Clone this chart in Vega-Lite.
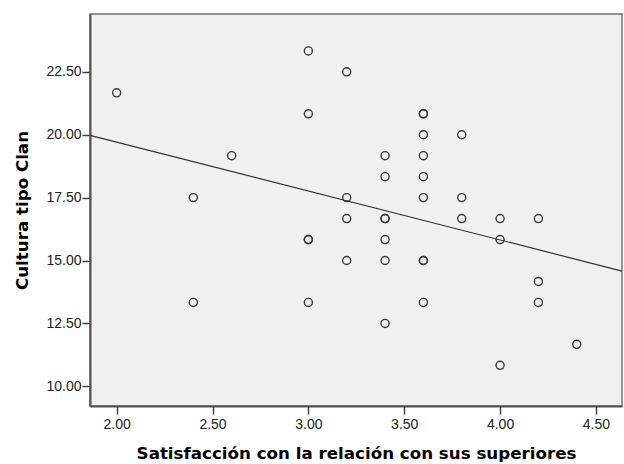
{
  "$schema": "https://vega.github.io/schema/vega-lite/v6.json",
  "width": 532,
  "height": 392,
  "autosize": {"type": "none"},
  "padding": {"left": 90, "top": 14, "right": 2, "bottom": 58},
  "background": "white",
  "config": {
    "view": {"fill": "#F0F0F0", "stroke": "#707070", "strokeWidth": 1.5},
    "axis": {
      "grid": false,
      "domainColor": "#505050",
      "domainWidth": 2,
      "tickColor": "#404040",
      "tickWidth": 1.5,
      "tickSize": 8,
      "labelFont": "Liberation Sans",
      "labelFontSize": 14,
      "labelColor": "#222222",
      "titleFont": "DejaVu Sans",
      "titleFontSize": 16.7,
      "titleFontWeight": "bold",
      "titleColor": "#000000"
    }
  },
  "data": {
    "values": [
      {"sat": 2.0, "clan": 21.667},
      {"sat": 2.4, "clan": 17.5},
      {"sat": 2.4, "clan": 13.333},
      {"sat": 2.6, "clan": 19.167},
      {"sat": 3.0, "clan": 23.333},
      {"sat": 3.0, "clan": 20.833},
      {"sat": 3.0, "clan": 15.833},
      {"sat": 3.0, "clan": 15.833},
      {"sat": 3.0, "clan": 13.333},
      {"sat": 3.2, "clan": 22.5},
      {"sat": 3.2, "clan": 17.5},
      {"sat": 3.2, "clan": 16.667},
      {"sat": 3.2, "clan": 15.0},
      {"sat": 3.4, "clan": 19.167},
      {"sat": 3.4, "clan": 18.333},
      {"sat": 3.4, "clan": 16.667},
      {"sat": 3.4, "clan": 16.667},
      {"sat": 3.4, "clan": 15.833},
      {"sat": 3.4, "clan": 15.0},
      {"sat": 3.4, "clan": 12.5},
      {"sat": 3.6, "clan": 20.833},
      {"sat": 3.6, "clan": 20.833},
      {"sat": 3.6, "clan": 20.0},
      {"sat": 3.6, "clan": 19.167},
      {"sat": 3.6, "clan": 18.333},
      {"sat": 3.6, "clan": 17.5},
      {"sat": 3.6, "clan": 15.0},
      {"sat": 3.6, "clan": 15.0},
      {"sat": 3.6, "clan": 13.333},
      {"sat": 3.8, "clan": 20.0},
      {"sat": 3.8, "clan": 17.5},
      {"sat": 3.8, "clan": 16.667},
      {"sat": 4.0, "clan": 16.667},
      {"sat": 4.0, "clan": 15.833},
      {"sat": 4.0, "clan": 10.833},
      {"sat": 4.2, "clan": 16.667},
      {"sat": 4.2, "clan": 14.167},
      {"sat": 4.2, "clan": 13.333},
      {"sat": 4.4, "clan": 11.667}
    ]
  },
  "encoding": {
    "x": {
      "field": "sat",
      "type": "quantitative",
      "title": "Satisfacción con la relación con sus superiores",
      "scale": {"domain": [1.861, 4.636], "nice": false, "zero": false},
      "axis": {"values": [2, 2.5, 3, 3.5, 4, 4.5], "format": ".2f", "labelPadding": 3, "titlePadding": 14}
    },
    "y": {
      "field": "clan",
      "type": "quantitative",
      "title": "Cultura tipo Clan",
      "scale": {"domain": [9.216, 24.8], "nice": false, "zero": false},
      "axis": {"values": [10, 12.5, 15, 17.5, 20, 22.5], "format": ".2f", "labelPadding": 1, "titlePadding": 14}
    }
  },
  "layer": [
    {
      "mark": {"type": "point", "shape": "circle", "filled": false, "size": 65, "stroke": "#3a3a3a", "strokeWidth": 1.4, "opacity": 1}
    },
    {
      "transform": [{"regression": "clan", "on": "sat", "extent": [1.861, 4.636]}],
      "mark": {"type": "line", "color": "#333333", "strokeWidth": 1.2}
    }
  ]
}
